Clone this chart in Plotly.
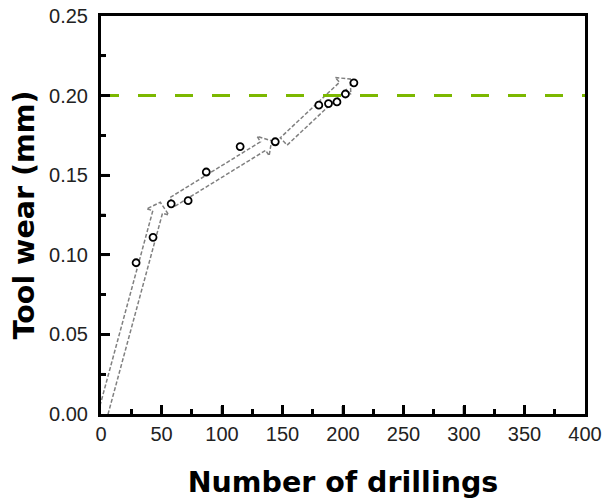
import numpy as np
import plotly.graph_objects as go

# ---- data ----
drillings = [29, 43, 58, 72, 87, 115, 144, 180, 188, 195, 202, 209]
tool_wear = [0.095, 0.111, 0.132, 0.134, 0.152, 0.168, 0.171, 0.194, 0.195, 0.196, 0.201, 0.208]
threshold = 0.20
x_range = [0, 400]
y_range = [0, 0.25]
x_dtick, y_dtick = 50, 0.05

# trend arrows (tail -> tip, data coordinates)
arrow_tail_x = [0.5, 59, 151]
arrow_tail_y = [-0.003, 0.1332, 0.1712]
arrow_tip_x = [49, 141, 206]
arrow_tip_y = [0.133, 0.1716, 0.2104]

# ---- layout geometry ----
W, H = 616, 504
ML, MR, MT, MB = 101, 31, 16, 90
PW, PH = W - ML - MR, H - MT - MB
MAJOR_LEN, MINOR_LEN = 8, 4.5


def to_px(x, y):
    return (x - x_range[0]) / (x_range[1] - x_range[0]) * PW, \
        (y_range[1] - y) / (y_range[1] - y_range[0]) * PH


def to_data(px, py):
    return x_range[0] + px / PW * (x_range[1] - x_range[0]), \
        y_range[1] - py / PH * (y_range[1] - y_range[0])


def arrow_outline(tx, ty, hx, hy, shaft=10.0, head=23.0, head_len=10.0):
    T = np.array(to_px(tx, ty))
    E = np.array(to_px(hx, hy))
    d = E - T
    L = np.hypot(*d)
    u = d / L
    p = np.array([-u[1], u[0]])
    B = T + u * (L - head_len)
    pts = [T + p * shaft / 2, B + p * shaft / 2, B + p * head / 2, E,
           B - p * head / 2, B - p * shaft / 2, T - p * shaft / 2, T + p * shaft / 2]
    xs, ys = zip(*[to_data(*q) for q in pts])
    return list(xs), list(ys)


fig = go.Figure()

for tx, ty, hx, hy in zip(arrow_tail_x, arrow_tail_y, arrow_tip_x, arrow_tip_y):
    ax, ay = arrow_outline(tx, ty, hx, hy)
    fig.add_trace(go.Scatter(x=ax, y=ay, mode="lines",
                             line=dict(color="#808080", width=1.5, dash="4px,2px"),
                             hoverinfo="skip", showlegend=False))

fig.add_trace(go.Scatter(x=x_range, y=[threshold, threshold], mode="lines",
                         line=dict(color="#7cb800", width=3, dash="18px,19px"),
                         showlegend=False))

fig.add_trace(go.Scatter(x=drillings, y=tool_wear, mode="markers",
                         marker=dict(symbol="circle", size=7, color="white",
                                     line=dict(color="black", width=1.8)),
                         cliponaxis=False, showlegend=False))

# inside tick marks (major + minor) along the bottom and left axes
tick_shapes = []
for i, v in enumerate(np.arange(x_range[0], x_range[1] + 1e-9, x_dtick / 2)):
    if v <= x_range[0] or v >= x_range[1]:
        continue
    ln = MAJOR_LEN if i % 2 == 0 else MINOR_LEN
    tick_shapes.append(dict(type="line", xref="x", yref="paper", x0=v, x1=v,
                            y0=0, y1=ln / PH, line=dict(color="black", width=2.5),
                            layer="above"))
for i, v in enumerate(np.arange(y_range[0], y_range[1] + 1e-9, y_dtick / 2)):
    if v <= y_range[0] + 1e-9 or v >= y_range[1] - 1e-9:
        continue
    ln = MAJOR_LEN if i % 2 == 0 else MINOR_LEN
    tick_shapes.append(dict(type="line", xref="paper", yref="y", x0=0, x1=ln / PW,
                            y0=v, y1=v, line=dict(color="black", width=2.5),
                            layer="above"))

tickfont = dict(family="Liberation Sans, Arial", size=20, color="#222")
titlefont = dict(family="DejaVu Sans, Verdana", size=28.5, color="black", weight="bold")

fig.update_layout(
    width=W, height=H,
    margin=dict(l=ML, r=MR, t=MT, b=MB),
    plot_bgcolor="white", paper_bgcolor="white",
    shapes=tick_shapes,
    xaxis=dict(range=x_range, dtick=x_dtick, tick0=0, ticks="inside", ticklen=9, tickwidth=2.5,
               tickcolor="black", showline=True, linewidth=3, linecolor="black", mirror=True,
               showgrid=False, zeroline=False, tickfont=tickfont,
               minor=dict(dtick=x_dtick / 2, ticks="inside", ticklen=5, tickwidth=2.5,
                          tickcolor="black"),
               title=dict(text="Number of drillings", font=titlefont, standoff=29),
               automargin=False),
    yaxis=dict(range=y_range, dtick=y_dtick, tick0=0, tickformat=".2f", ticks="inside", ticklen=9,
               tickwidth=2.5, tickcolor="black", showline=True, linewidth=3, linecolor="black",
               mirror=True, showgrid=False, zeroline=False, tickfont=tickfont,
               ticklabelstandoff=6,
               minor=dict(dtick=y_dtick / 2, ticks="inside", ticklen=5, tickwidth=2.5,
                          tickcolor="black"),
               title=dict(text="Tool wear (mm)", font=titlefont, standoff=7),
               automargin=False),
)

fig.write_html("out.html", config={"displayModeBar": False},
               post_script="document.body.style.margin='0';")
